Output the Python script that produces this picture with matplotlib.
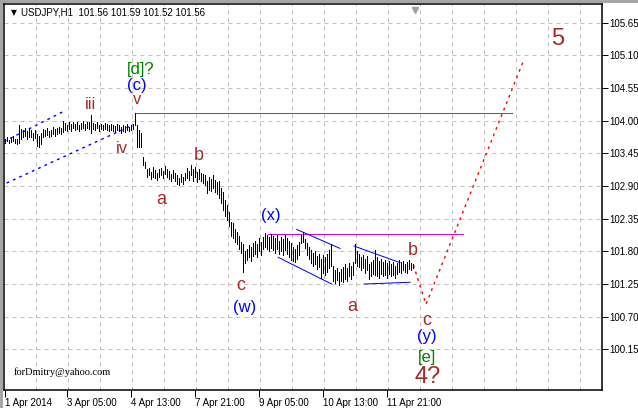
import matplotlib
matplotlib.use('Agg')
import matplotlib.pyplot as plt
from matplotlib.lines import Line2D

# USDJPY H1, hourly bars from 1 Apr 2014 (high / low of each bar)
high = [
    103.70, 103.72, 103.68, 103.71, 103.74, 103.70, 103.69, 103.92, 103.86, 103.84,
    103.88, 103.82, 103.86, 103.84, 103.80, 103.85, 103.78, 103.74, 103.80, 103.86,
    103.84, 103.88, 103.82, 103.85, 103.89, 103.86, 103.88, 103.90, 103.87, 103.99,
    103.96, 103.92, 103.97, 103.94, 103.98, 103.95, 103.97, 103.93, 103.96, 103.99,
    103.95, 103.97, 103.98, 104.10, 103.96, 103.94, 103.97, 103.92, 103.95, 103.93,
    103.96, 103.94, 103.92, 103.95, 103.93, 103.91, 103.94, 103.92, 103.90, 103.93,
    103.91, 103.94, 103.90, 103.93, 103.95, 104.13, 103.93, 103.84, 103.79, 103.39,
    103.30, 103.18, 103.20, 103.14, 103.22, 103.17, 103.12, 103.19, 103.21, 103.16,
    103.24, 103.19, 103.15, 103.10, 103.17, 103.12, 103.08, 103.04, 103.10, 103.06,
    103.12, 103.20, 103.16, 103.25, 103.18, 103.22, 103.14, 103.19, 103.12, 103.10,
    103.08, 102.98, 103.06, 103.02, 103.08, 103.00, 102.96, 102.98, 102.86, 102.80,
    102.66, 102.58, 102.46, 102.30, 102.28, 102.18, 102.12, 102.06, 101.96, 101.92,
    101.80, 101.84, 101.90, 101.88, 101.94, 101.98, 101.92, 102.02, 101.96, 102.05,
    102.11, 102.08, 102.04, 102.09, 102.06, 102.02, 102.07, 101.98, 102.04, 102.00,
    102.08, 102.02, 101.98, 101.94, 101.88, 101.84, 101.90, 101.96, 102.08, 102.12,
    102.00, 101.94, 101.88, 101.82, 101.78, 101.80, 101.72, 101.76, 101.68, 101.74,
    101.70, 101.76, 101.82, 101.92, 101.55, 101.48, 101.52, 101.46, 101.50, 101.54,
    101.58, 101.52, 101.60, 101.56, 101.62, 101.93, 101.80, 101.76, 101.70, 101.74,
    101.68, 101.72, 101.58, 101.62, 101.66, 101.82, 101.70, 101.64, 101.68, 101.62,
    101.66, 101.60, 101.64, 101.58, 101.62, 101.56, 101.60, 101.66, 101.62, 101.64,
    101.58, 101.62, 101.66, 101.60, 101.59,
]
low = [
    103.63, 103.65, 103.62, 103.64, 103.66, 103.62, 103.60, 103.62, 103.70, 103.72,
    103.74, 103.70, 103.73, 103.72, 103.68, 103.71, 103.58, 103.55, 103.60, 103.72,
    103.74, 103.76, 103.72, 103.75, 103.77, 103.74, 103.78, 103.80, 103.77, 103.81,
    103.84, 103.82, 103.86, 103.83, 103.87, 103.85, 103.86, 103.83, 103.86, 103.88,
    103.85, 103.87, 103.86, 103.79, 103.86, 103.84, 103.87, 103.83, 103.86, 103.84,
    103.86, 103.84, 103.82, 103.85, 103.83, 103.81, 103.84, 103.82, 103.80, 103.83,
    103.81, 103.84, 103.82, 103.84, 103.86, 103.93, 103.55, 103.56, 103.56, 103.25,
    103.20, 103.05, 103.08, 103.02, 103.06, 103.04, 103.00, 103.06, 103.08, 103.04,
    103.10, 103.06, 103.02, 102.98, 103.04, 102.98, 102.93, 102.92, 102.96, 102.94,
    103.00, 103.04, 103.00, 103.08, 102.98, 103.06, 102.97, 103.02, 102.98, 102.95,
    102.92, 102.78, 102.84, 102.82, 102.86, 102.80, 102.76, 102.70, 102.62, 102.50,
    102.40, 102.32, 102.22, 102.06, 102.02, 101.96, 101.92, 101.84, 101.78, 101.45,
    101.60, 101.66, 101.70, 101.64, 101.72, 101.76, 101.70, 101.80, 101.74, 101.84,
    101.88, 101.84, 101.80, 101.86, 101.82, 101.78, 101.84, 101.76, 101.80, 101.74,
    101.82, 101.76, 101.70, 101.66, 101.64, 101.62, 101.68, 101.74, 101.94, 101.96,
    101.86, 101.74, 101.68, 101.60, 101.56, 101.58, 101.50, 101.54, 101.36, 101.44,
    101.40, 101.46, 101.52, 101.55, 101.30, 101.26, 101.32, 101.24, 101.30, 101.28,
    101.34, 101.30, 101.38, 101.34, 101.40, 101.60, 101.56, 101.54, 101.48, 101.52,
    101.44, 101.48, 101.34, 101.38, 101.42, 101.40, 101.38, 101.36, 101.42, 101.38,
    101.40, 101.36, 101.42, 101.38, 101.40, 101.36, 101.42, 101.46, 101.44, 101.48,
    101.46, 101.44, 101.50, 101.48, 101.52,
]

x_ticks = [0, 31, 63, 95, 127, 159, 191]
x_labels = ['1 Apr 2014', '3 Apr 05:00', '4 Apr 13:00', '7 Apr 21:00',
            '9 Apr 05:00', '10 Apr 13:00', '11 Apr 21:00']
price_ticks = [100.15, 100.70, 101.25, 101.80, 102.35, 102.90,
               103.45, 104.00, 104.55, 105.10, 105.65]

# objects drawn on the chart: (bar, price) end points
blue_dots = [((-0.5, 103.65), (29.5, 104.16)),
             ((0.8, 102.95), (64.0, 103.93))]
magenta = [((65.5, 104.13), (253.5, 104.13)),
           ((131.5, 102.10), (229.0, 102.10))]
blue_solid = [((145.8, 102.17), (167.5, 101.85)),
              ((136.6, 101.70), (163.3, 101.25)),
              ((174.5, 101.89), (197.5, 101.61)),
              ((179.5, 101.25), (202.5, 101.28))]
forecast_bar = [204.2, 210.5, 258.9]
forecast_price = [101.57, 100.91, 104.98]

BROWN = '#a52a2a'
BLUE = '#0000ff'
GREEN = '#008000'
# wave labels: text, bar, price, colour, size
waves = [
    ('[d]?', 68, 104.86, GREEN, 12),
    ('(c)', 66, 104.60, BLUE, 12),
    ('v', 66, 104.36, BROWN, 12),
    ('iii', 42.5, 104.28, BROWN, 12),
    ('iv', 58.5, 103.54, BROWN, 12),
    ('a', 78, 102.68, BROWN, 13),
    ('b', 97, 103.42, BROWN, 13),
    ('c', 118, 101.23, BROWN, 13),
    ('(w)', 120, 100.85, BLUE, 12),
    ('(x)', 133, 102.41, BLUE, 12),
    ('a', 173.5, 100.88, BROWN, 13),
    ('b', 204, 101.81, BROWN, 13),
    ('c', 211, 100.63, BROWN, 13),
    ('(y)', 211, 100.36, BLUE, 12),
    ('[e]', 211, 100.02, GREEN, 12),
    ('4?', 211.5, 99.69, BROWN, 17),
    ('5', 276.5, 105.38, BROWN, 17),
]

PX = 0.72  # one pixel in points

fig = plt.figure(figsize=(6.38, 4.08), dpi=100)
ax = fig.add_axes([4 / 638, 18 / 408, 598 / 638, 386 / 408])
ax.set_xlim(-0.5, 298.5)
ax.set_ylim(99.466, 105.965)

# grid
ax.set_xticks([15.5 + 16 * k for k in range(18)], minor=True)
ax.grid(True, which='minor', axis='x', color='#c0c0c0', linestyle=(0, (4, 4)), lw=PX)
ax.grid(True, which='major', axis='y', color='#c0c0c0', linestyle=(0, (4, 4)), lw=PX)
ax.set_axisbelow(True)

# bars
bars = list(range(len(high)))
ax.vlines(bars, low, high, color='black', lw=PX, antialiased=False, zorder=3)

for (a, b) in blue_dots:
    ax.plot([a[0], b[0]], [a[1], b[1]], color=BLUE, lw=1.0, linestyle=(0, (2, 3)), zorder=2)
for (a, b) in magenta:
    ax.plot([a[0], b[0]], [a[1], b[1]], color='#e000e0', lw=PX, zorder=2)
for (a, b) in blue_solid:
    ax.plot([a[0], b[0]], [a[1], b[1]], color=BLUE, lw=PX, zorder=2)
ax.plot(forecast_bar, forecast_price, color='red', lw=1.0, linestyle=(0, (2, 3)), zorder=2)

for txt, bx, py, col, sz in waves:
    ax.text(bx, py, txt, color=col, fontsize=sz, family='Liberation Sans',
            ha='center', va='center', zorder=4)

# header and signature
ax.text(0.012, 0.978, '\u25bc', transform=ax.transAxes, fontsize=5.5,
        family='DejaVu Sans', va='center', ha='left')
ax.text(0.028, 0.978, 'USDJPY,H1  101.56 101.59 101.52 101.56', transform=ax.transAxes,
        fontsize=7, family='Liberation Sans', va='center', ha='left')
ax.text(0.016, 0.045, 'forDmitry@yahoo.com', transform=ax.transAxes,
        fontsize=7.5, family='Liberation Serif', va='center', ha='left')
ax.plot([0.688], [0.985], marker='v', color='#a0a0a0', ms=5, transform=ax.transAxes,
        clip_on=False)

# axes
ax.yaxis.tick_right()
ax.set_yticks(price_ticks)
ax.set_yticklabels(['%.2f' % v for v in price_ticks], fontsize=7, family='Liberation Sans')
ax.set_xticks(x_ticks)
ax.set_xticklabels(x_labels, fontsize=7, family='Liberation Sans', ha='left')
ax.tick_params(axis='y', direction='out', length=4, width=PX, pad=1)
ax.tick_params(axis='x', direction='out', length=5, width=PX, pad=1)
ax.tick_params(axis='x', which='minor', length=0)
for s in ax.spines.values():
    s.set_linewidth(1.1)
    s.set_color('black')

# window frame
fig.add_artist(Line2D([0, 1], [0.997, 0.997], color='#a0a0a0', lw=2))
fig.add_artist(Line2D([0.002, 0.002], [0, 1], color='#a0a0a0', lw=2))

fig.savefig('out.png', dpi=100)
